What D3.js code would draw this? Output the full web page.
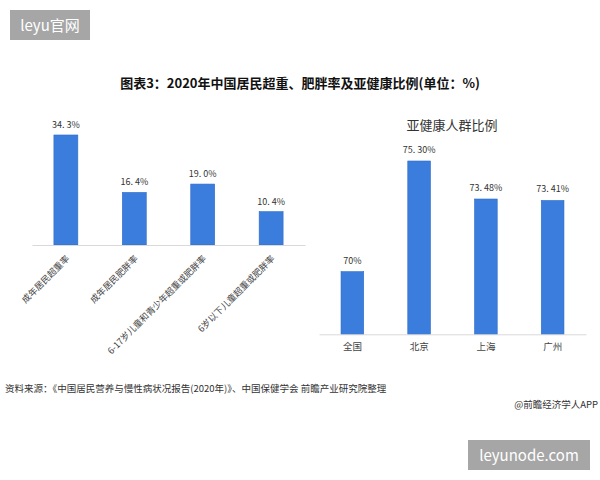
<!DOCTYPE html>
<html><head><meta charset="utf-8">
<script src="https://cdn.jsdelivr.net/npm/d3@7/dist/d3.min.js"></script>
<style>body{margin:0;background:#fff;}svg{display:block;}</style>
</head><body>
<svg id="chart" width="600" height="480"></svg>
<script>
const leftCategories = ["成年居民超重率", "成年居民肥胖率", "6-17岁儿童和青少年超重或肥胖率", "6岁以下儿童超重或肥胖率"];
const leftValues = [34.3, 16.4, 19.0, 10.4];
const leftLabels = ["34. 3%", "16. 4%", "19. 0%", "10. 4%"];
const rightCategories = ["全国", "北京", "上海", "广州"];
const rightValues = [70, 75.30, 73.48, 73.41];
const rightLabels = ["70%", "75. 30%", "73. 48%", "73. 41%"];

const font = "'Noto Sans CJK SC', 'Noto Sans', sans-serif";
const svg = d3.select("#chart").style("font-family", font);
svg.append("rect").attr("width", 600).attr("height", 480).attr("fill", "#fff");

const barFill = "#3b7ddd", barStroke = "#2f6cc6";

// Title
svg.append("text").attr("x", 300).attr("y", 88).attr("text-anchor", "middle")
  .attr("font-size", 13).attr("font-weight", "bold").attr("fill", "#111")
  .text("图表3：2020年中国居民超重、肥胖率及亚健康比例(单位：%)");

// Left chart
const xL = d3.scaleBand().domain(leftCategories).range([32, 305]).paddingInner(0.65).paddingOuter(0.32);
const yL = d3.scaleLinear().domain([0, 40]).range([245, 116.7]);
const gL = svg.append("g");
gL.selectAll("rect.bar").data(leftValues).join("rect").attr("class", "bar")
  .attr("x", (d, i) => xL(leftCategories[i])).attr("width", xL.bandwidth())
  .attr("y", d => yL(d)).attr("height", d => yL(0) - yL(d))
  .attr("fill", barFill).attr("stroke", barStroke).attr("stroke-width", 0.6);
gL.selectAll("text.val").data(leftValues).join("text").attr("class", "val")
  .attr("x", (d, i) => xL(leftCategories[i]) + xL.bandwidth() / 2)
  .attr("y", d => yL(d) - 7).attr("text-anchor", "middle")
  .attr("font-size", 9).attr("fill", "#333").text((d, i) => leftLabels[i]);
const axL = gL.append("g").attr("transform", `translate(0,${yL(0)})`)
  .call(d3.axisBottom(xL).tickSize(0).tickFormat(""));
axL.select(".domain").attr("stroke", "#d9d9d9");
gL.selectAll("text.cat").data(leftCategories).join("text").attr("class", "cat")
  .attr("transform", d => `translate(${xL(d) + xL.bandwidth() / 2 + 2},${yL(0) + 12}) rotate(-45)`)
  .attr("text-anchor", "end").attr("dy", "0.35em")
  .attr("font-size", 9).attr("fill", "#444").text(d => d);

// Right chart
svg.append("text").attr("x", 452).attr("y", 130).attr("text-anchor", "middle")
  .attr("font-size", 13).attr("fill", "#333").text("亚健康人群比例");
const xR = d3.scaleBand().domain(rightCategories).range([319, 586]).paddingInner(0.66).paddingOuter(0.33);
const yR = d3.scaleLinear().domain([67, 77]).range([334.3, 125.5]);
const gR = svg.append("g");
gR.selectAll("rect.bar").data(rightValues).join("rect").attr("class", "bar")
  .attr("x", (d, i) => xR(rightCategories[i])).attr("width", xR.bandwidth())
  .attr("y", d => yR(d)).attr("height", d => yR(67) - yR(d))
  .attr("fill", barFill).attr("stroke", barStroke).attr("stroke-width", 0.6);
gR.selectAll("text.val").data(rightValues).join("text").attr("class", "val")
  .attr("x", (d, i) => xR(rightCategories[i]) + xR.bandwidth() / 2)
  .attr("y", d => yR(d) - 8).attr("text-anchor", "middle")
  .attr("font-size", 9).attr("fill", "#333").text((d, i) => rightLabels[i]);
const axR = gR.append("g").attr("transform", `translate(0,${yR(67)})`)
  .call(d3.axisBottom(xR).tickSize(0).tickPadding(9));
axR.select(".domain").attr("stroke", "#d9d9d9");
axR.selectAll("text").attr("font-size", 9.5).attr("fill", "#444").attr("font-family", font);

// Source
svg.append("text").attr("x", 5).attr("y", 392).attr("font-size", 9.5).attr("fill", "#333")
  .text("资料来源：《中国居民营养与慢性病状况报告(2020年)》、中国保健学会 前瞻产业研究院整理");
svg.append("text").attr("x", 598).attr("y", 408).attr("text-anchor", "end").attr("font-size", 9.5).attr("fill", "#333")
  .text("@前瞻经济学人APP");

// Badges
svg.append("rect").attr("x", 10).attr("y", 10).attr("width", 80).attr("height", 30).attr("fill", "#a6a6a6");
svg.append("text").attr("x", 50).attr("y", 30.5).attr("text-anchor", "middle").attr("font-size", 15).attr("fill", "#fff").text("leyu官网");
svg.append("rect").attr("x", 468).attr("y", 440).attr("width", 122).attr("height", 30).attr("fill", "#a6a6a6");
svg.append("text").attr("x", 529).attr("y", 460.5).attr("text-anchor", "middle").attr("font-size", 15).attr("fill", "#fff").text("leyunode.com");
</script>
</body></html>
